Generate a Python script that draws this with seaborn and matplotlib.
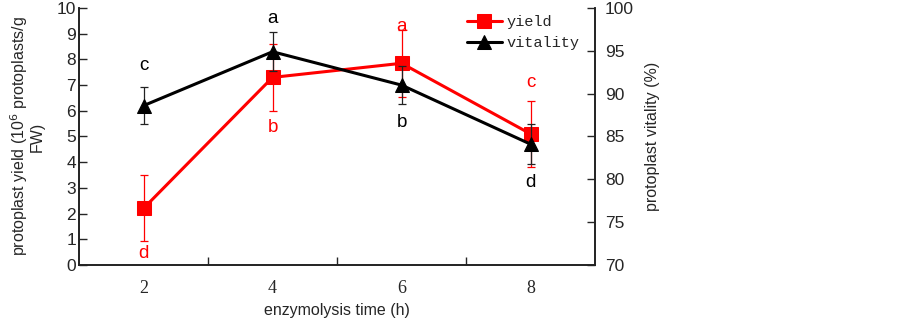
import numpy as np
import pandas as pd
import matplotlib
matplotlib.use("Agg")
import matplotlib.pyplot as plt
import seaborn as sns

# enzymolysis time categories
times = ["2", "4", "6", "8"]
# protoplast yield (10^6 protoplasts/g FW)
yield_mean = [2.2, 7.3, 7.85, 5.1]
yield_err = [1.28, 1.3, 1.3, 1.28]
yield_letters = ["d", "b", "a", "c"]
yield_letter_y = [0.45, 5.35, 9.3, 7.1]
# protoplast vitality (%)
vit_mean = [88.6, 94.9, 91.0, 84.1]
vit_err = [2.2, 2.3, 2.2, 2.3]
vit_letters = ["c", "a", "b", "d"]
vit_letter_y = [7.75, 9.6, 5.55, 3.2]

sns.set_style("ticks")
plt.rcParams["font.family"] = ["Liberation Sans", "DejaVu Sans"]

df = pd.DataFrame({"pos": np.arange(len(times)), "yield": yield_mean, "vitality": vit_mean})

fig = plt.figure(figsize=(9.03, 3.23), dpi=100)
ax = fig.add_axes([0.0875, 0.18, 0.5715, 0.795])
ax2 = ax.twinx()

# yield on the left axis
ax.errorbar(df["pos"], df["yield"], yerr=yield_err, fmt="none", ecolor="red",
            elinewidth=0.9, capsize=3, capthick=0.9, zorder=2)
sns.lineplot(data=df, x="pos", y="yield", ax=ax, color="red", linewidth=2.2,
             marker="s", markersize=10, markeredgecolor="red", label="yield", legend=False)

# vitality on the right axis
ax2.errorbar(df["pos"], df["vitality"], yerr=vit_err, fmt="none", ecolor="#222222",
             elinewidth=0.9, capsize=3, capthick=0.9, zorder=2)
sns.lineplot(data=df, x="pos", y="vitality", ax=ax2, color="black", linewidth=2.2,
             marker="^", markersize=10, markeredgecolor="black", label="vitality", legend=False)

ax.set_xlim(-0.5, len(times) - 0.5)
ax.set_ylim(0, 10)
ax2.set_ylim(70, 100)
ax.set_yticks(np.arange(0, 11, 1))
ax2.set_yticks(np.arange(70, 101, 5))
ax.set_xticks(df["pos"])
ax.set_xticklabels(times, fontfamily="Liberation Serif", fontsize=13)
ax.set_xticks(np.arange(0.5, len(times) - 0.5, 1), minor=True)
ax.tick_params(axis="x", which="major", length=0, pad=11)
ax.tick_params(axis="x", which="minor", direction="in", length=6, width=1)
ax.tick_params(axis="y", direction="in", length=6, width=1, labelsize=12.5, pad=2)
ax2.tick_params(axis="y", direction="in", length=6, width=1, labelsize=12.5, pad=7)

for a in (ax, ax2):
    a.spines["top"].set_visible(False)
    for s in ("left", "right", "bottom"):
        a.spines[s].set_linewidth(1.2)
        a.spines[s].set_color("#222222")
ax2.spines["right"].set_visible(True)

ax.set_xlabel("enzymolysis time (h)", fontsize=11.5, labelpad=4)
ax.set_ylabel("protoplast yield (10$^6$ protoplasts/g\nFW)", fontsize=11.5, labelpad=9, linespacing=0.95)
ax2.set_ylabel("protoplast vitality (%)", fontsize=11.5, labelpad=8)

# significance letters
for i, (lt, ly) in enumerate(zip(yield_letters, yield_letter_y)):
    ax.text(i, ly, lt, color="red", fontsize=13.5, ha="center", va="center")
for i, (lt, ly) in enumerate(zip(vit_letters, vit_letter_y)):
    ax.text(i, ly, lt, color="black", fontsize=13.5, ha="center", va="center")

h1, l1 = ax.get_legend_handles_labels()
h2, l2 = ax2.get_legend_handles_labels()
ax2.legend(h1 + h2, l1 + l2, loc="upper left", bbox_to_anchor=(0.725, 1.025), frameon=False,
           handlelength=2.3, handletextpad=0.3, labelspacing=0.45,
           prop={"family": "Liberation Mono", "size": 11})

fig.savefig("out.png", dpi=100)
